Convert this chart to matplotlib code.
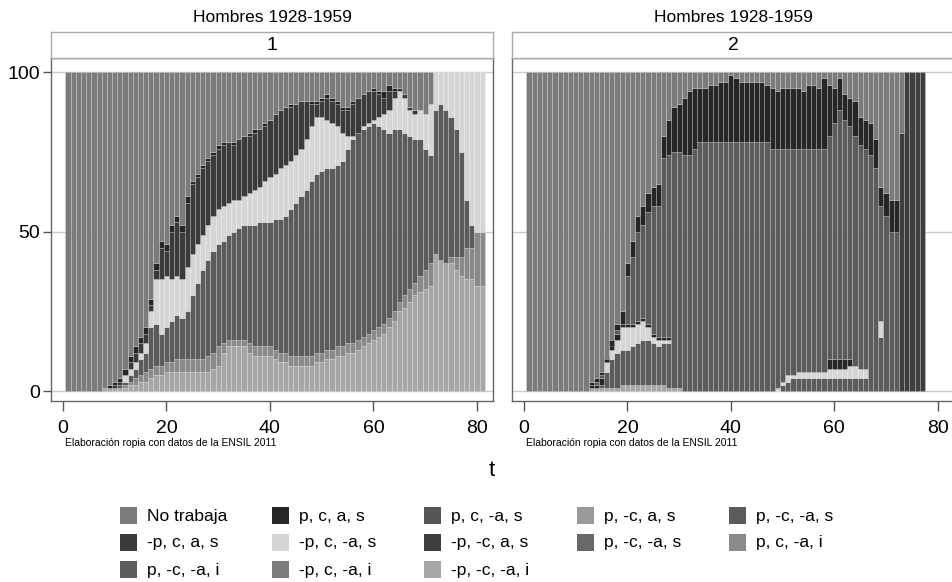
import numpy as np
import matplotlib.pyplot as plt
from matplotlib.patches import Rectangle

plt.rcParams['font.family'] = ['Liberation Sans', 'DejaVu Sans']

# legend categories (row-wise, as in the figure) and their grey fills
labels = ['No trabaja', 'p, c, a, s', 'p, c, -a, s', 'p, -c, a, s', 'p, -c, -a, s',
          '-p, c, a, s', '-p, c, -a, s', '-p, -c, a, s', 'p, -c, -a, s ', 'p, c, -a, i',
          'p, -c, -a, i', '-p, c, -a, i', '-p, -c, -a, i']
greys = ['#7b7b7b', '#262626', '#555555', '#9a9a9a', '#5b5b5b',
         '#3a3a3a', '#d6d6d6', '#3e3e3e', '#686868', '#8a8a8a',
         '#5c5c5c', '#7c7c7c', '#a6a6a6']
colour = dict(zip(labels, greys))

# ---- panel 1 : cumulative tops of each state (percent), t = 1..81
t1 = np.arange(1, 82)
p1_b1 = ([0]*7 + [1, 1, 1, 1, 1] + [2, 2, 3, 3, 4] + [5, 5, 6, 6, 6, 6, 6] +
         [6, 6, 6, 6, 7, 8] + [12, 14, 14, 14, 14] + [12, 11, 11, 11, 11] +
         [10, 9, 9, 8, 8] + [8, 8, 8, 9, 9] + [10, 10, 11, 11, 12] +
         [12, 13, 14, 15, 16] + [17, 18, 20, 22, 25] + [26, 28, 30, 31, 32, 33] +
         [43, 41, 40, 40, 38, 36, 35, 35, 33, 33])
p1_b2 = ([0]*7 + [1, 1, 1, 1, 2] + [3, 4, 5, 6, 7] + [8, 8, 9, 9, 10, 10, 10] +
         [10, 10, 10, 11, 12, 14] + [15, 16, 16, 16, 16] + [15, 14, 14, 14, 14] +
         [13, 12, 12, 11, 11] + [11, 11, 11, 12, 12] + [13, 13, 14, 14, 15] +
         [15, 16, 17, 18, 19] + [20, 21, 23, 25, 28] + [30, 32, 34, 36, 38, 40] +
         [43, 41, 40, 42, 42, 42, 45, 45, 50, 50])
p1_b3 = ([0]*7 + [1, 1, 1, 2, 3] + [5, 7, 10, 12, 20] + [21, 18, 20, 22, 24, 23, 25] +
         [30, 34, 38, 41, 44, 46] + [47, 49, 50, 51, 52] + [52, 52, 53, 53, 53] +
         [54, 54, 55, 57, 59] + [61, 63, 66, 68, 69] + [70, 70, 71, 72, 76] +
         [79, 81, 82, 83, 84] + [83, 82, 81, 82, 82] + [81, 80, 79, 79, 76, 74] +
         [88, 90, 88, 86, 82, 75, 60, 52, 50, 50])
p1_b4 = ([0]*7 + [1, 1, 1, 2, 5] + [7, 9, 12, 15, 25] + [35, 35, 36, 35, 36, 35, 39] +
         [43, 46, 49, 52, 55, 57] + [58, 59, 60, 60, 61] + [62, 63, 64, 66, 67] +
         [68, 70, 71, 72, 74] + [76, 79, 83, 86, 86] + [85, 84, 83, 81, 80] +
         [80, 81, 83, 84, 85] + [86, 87, 88, 92, 94] + [92, 88, 87, 88, 87, 90] +
         [100]*10)
p1_b5 = ([0]*7 + [1, 1, 2, 3, 5] + [9, 12, 15, 18, 27] + [38, 45, 44, 50, 53, 50, 59] +
         [65, 67, 70, 72, 74, 76] + [77, 78, 77, 79, 80] + [80, 81, 82, 83, 85] +
         [87, 88, 89, 89, 90] + [91, 91, 90, 90, 91] + [92, 91, 90, 88, 88] +
         [90, 92, 93, 94, 94] + [93, 92, 94, 94, 95] + [93, 89, 88, 88, 87, 90] +
         [100]*10)
p1_b6 = ([0]*7 + [1, 2, 3, 4, 7] + [11, 14, 17, 20, 29] + [40, 47, 46, 52, 55, 52, 61] +
         [66, 68, 71, 73, 75, 77] + [78, 78, 78, 79, 80] + [81, 82, 82, 84, 85] +
         [87, 88, 89, 90, 90] + [91, 91, 91, 91, 92] + [93, 92, 91, 89, 89] +
         [91, 92, 93, 94, 95] + [94, 94, 96, 95, 95] + [93, 89, 88, 88, 87, 90] +
         [100]*10)
p1_tops = [p1_b1, p1_b2, p1_b3, p1_b4, p1_b5, p1_b6]
p1_cats = ['-p, -c, -a, i', 'p, c, -a, i', 'p, -c, -a, s', '-p, c, -a, s',
           '-p, c, a, s', 'p, c, a, s']

# ---- panel 2 : cumulative tops, t = 1..77
t2 = np.arange(1, 78)
p2_c1 = ([0]*12 + [1, 1, 1, 1, 1] + [1, 2, 2, 2, 2, 2, 2, 2, 2, 2, 1, 1, 1] +
         [0]*18 + [0]*18 + [0]*11)
p2_c2 = ([0]*12 + [1, 1, 2, 6, 10] + [12, 13, 13, 14, 15, 16, 16, 15, 14, 15, 15, 1, 1] +
         [0]*18 + [0, 2, 3, 4, 4, 4, 4, 4, 4, 4, 4, 4, 4, 4, 4, 4, 4, 4] +
         [0, 0, 17, 0, 0, 0, 0, 0, 0, 0, 0])
p2_c3 = ([0]*12 + [1, 1, 2, 9, 13] + [16, 20, 20, 20, 21, 22, 20, 17, 16, 16, 16, 1, 1] +
         [0]*18 + [1, 3, 5, 5, 6, 6, 6, 6, 6, 6, 7, 7, 7, 7, 8, 8, 7, 7] +
         [0, 0, 22, 0, 0, 0, 0, 0, 0, 0, 0])
p2_c4 = ([0]*12 + [2, 2, 4, 11, 16] + [18, 21, 21, 21, 22, 23, 21, 18, 17, 17, 17, 1, 1] +
         [0]*18 + [1, 3, 5, 5, 6, 6, 6, 6, 6, 6, 10, 10, 10, 10, 10, 8, 7, 7] +
         [0, 0, 22, 0, 0, 0, 0, 0, 0, 0, 0])
p2_c5 = ([0]*12 + [2, 3, 5, 9, 14] + [19, 21, 36, 42, 50, 52, 56, 58, 58, 73, 74, 75, 75] +
         [74, 74, 76, 78, 78, 78, 78, 78, 78, 78, 78, 78, 78, 78, 78, 78, 78, 76] +
         [76, 76, 76, 76, 76, 76, 76, 76, 76, 76, 80, 84, 88, 85, 83, 80, 77, 76] +
         [74, 70, 58, 55, 50, 50, 0, 0, 0, 0, 0])
p2_c6 = ([0]*12 + [3, 4, 6, 10, 16] + [21, 25, 40, 47, 55, 58, 62, 64, 65, 80, 85, 89, 90] +
         [92, 94, 95, 95, 95, 96, 96, 97, 97, 99, 98, 97, 97, 97, 97, 97, 96, 95] +
         [94, 95, 95, 95, 95, 94, 96, 96, 95, 98, 96, 95, 98, 93, 92, 91, 86, 85] +
         [84, 79, 64, 62, 60, 60, 0, 0, 0, 0, 0])
p2_end = [0]*72 + [81, 100, 100, 100, 100]
p2_c7 = list(np.array(p2_c6) + np.array(p2_end))
p2_tops = [p2_c1, p2_c2, p2_c3, p2_c4, p2_c5, p2_c6, p2_c7]
p2_cats = ['-p, -c, -a, i', 'p, -c, -a, s', '-p, c, -a, s', 'p, c, a, s',
           'p, -c, -a, s', 'p, c, a, s', '-p, -c, a, s']

title = 'Hombres 1928-1959'
note = 'Elaboración ropia con datos de la ENSIL 2011'


def stacked(ax, t, tops, cats):
    base = np.zeros(len(t))
    for top, cat in zip(tops + [np.full(len(t), 100.0)], cats + ['No trabaja']):
        top = np.asarray(top, float)
        h = top - base
        keep = h > 0
        ax.bar(t[keep], h[keep], bottom=base[keep], width=1.0,
               color=colour[cat], edgecolor=(1, 1, 1, 0.22), linewidth=0.6, zorder=2)
        base = top


fig = plt.figure(figsize=(9.53, 5.82), dpi=100)
W, H = 953, 582
# (left px, width px, right x-limit) -- panel 2 runs off the right edge
panels = [(51, 442, 83.1, t1, p1_tops, p1_cats, '1'),
          (512, 446, 83.9, t2, p2_tops, p2_cats, '2')]
for i, (x0, w, xr, t, tops, cats, strip) in enumerate(panels):
    ax = fig.add_axes([x0 / W, 1 - 401 / H, w / W, 343 / H])
    stacked(ax, t, tops, cats)
    ax.set_xlim(-2.3, xr)
    ax.set_ylim(-3.1, 104.4)
    for g in (0, 50, 100):
        ax.axhline(g, color='#cccccc', linewidth=1.0, zorder=1)
    for s in ax.spines.values():
        s.set_color('#666666')
        s.set_linewidth(1.0)
    ax.set_xticks([0, 20, 40, 60, 80])
    ax.tick_params(axis='x', direction='out', length=7, width=1, color='#555555',
                   labelsize=14, pad=7)
    if i == 0:
        ax.set_yticks([0, 50, 100])
        ax.tick_params(axis='y', direction='out', length=6, width=1, color='#555555',
                       labelsize=14, pad=2)
    else:
        ax.set_yticks([])
    # strip header
    sax = fig.add_axes([x0 / W, 1 - 58 / H, w / W, 26 / H])
    sax.set_xticks([])
    sax.set_yticks([])
    for s in sax.spines.values():
        s.set_color('#aaaaaa')
        s.set_linewidth(1.0)
    fig.text((x0 + 221) / W, 1 - 45 / H, strip, ha='center', va='center', fontsize=14)
    fig.text((x0 + 221) / W, 1 - 17 / H, title, ha='center', va='center', fontsize=12.5)
    fig.text((x0 + 14) / W, 1 - 443 / H, note, ha='left', va='center', fontsize=7.5)

fig.text(492 / W, 1 - 470 / H, 't', ha='center', va='center', fontsize=16)

# legend, 5 columns filled row-wise
col_x = [128, 280, 432, 585, 737]
row_y = [516, 543, 570]
for k, lab in enumerate(labels):
    r, c = divmod(k, 5)
    px, py = col_x[c], row_y[r]
    fig.add_artist(Rectangle(((px - 8) / W, 1 - (py + 8) / H), 17 / W, 17 / H,
                             transform=fig.transFigure, facecolor=colour[lab],
                             edgecolor='none'))
    fig.text((px + 19) / W, 1 - py / H, lab.strip(), ha='left', va='center', fontsize=12.5)

fig.savefig('out.png', dpi=100, facecolor='white')
